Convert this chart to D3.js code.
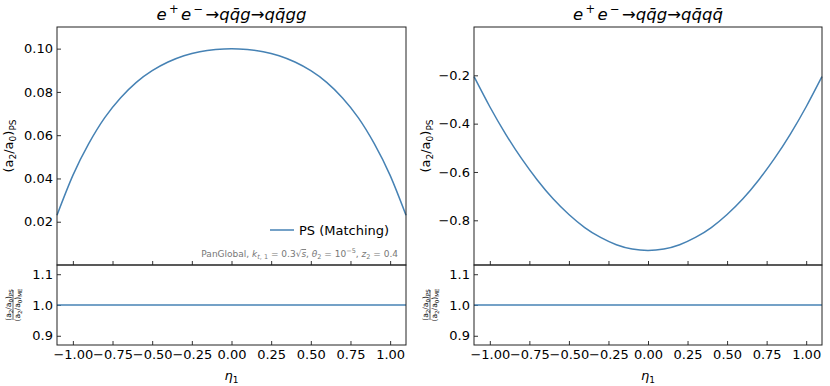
<!DOCTYPE html>
<html>
<head>
<meta charset="utf-8">
<script src="https://cdn.jsdelivr.net/npm/d3@7"></script>
<style>
  body { margin: 0; background: #fff; }
  text { font-family: "DejaVu Sans", sans-serif; }
</style>
</head>
<body>
<div id="chart"></div>
<script>
// data
let eta = [-1.1, -1.0, -0.9, -0.8, -0.7, -0.6, -0.5, -0.4, -0.3, -0.2, -0.1, 0.0,
  0.1, 0.2, 0.3, 0.4, 0.5, 0.6, 0.7, 0.8, 0.9, 1.0, 1.1]
let ggValues = [0.0230, 0.0414, 0.0561, 0.0680, 0.0772, 0.0844, 0.0898, 0.0938, 0.0967, 0.0986, 0.0996, 0.1000,
  0.0996, 0.0986, 0.0967, 0.0938, 0.0898, 0.0844, 0.0772, 0.0680, 0.0561, 0.0414, 0.0230]
let qqValues = [-0.205, -0.330, -0.443, -0.544, -0.633, -0.711, -0.776, -0.830, -0.871, -0.901, -0.919, -0.925,
  -0.919, -0.901, -0.871, -0.830, -0.776, -0.711, -0.633, -0.544, -0.443, -0.330, -0.205]
let ratioValues = [1.0, 1.0, 1.0, 1.0, 1.0, 1.0, 1.0, 1.0, 1.0, 1.0, 1.0, 1.0,
  1.0, 1.0, 1.0, 1.0, 1.0, 1.0, 1.0, 1.0, 1.0, 1.0, 1.0]

let xTicks = [-1.0, -0.75, -0.5, -0.25, 0.0, 0.25, 0.5, 0.75, 1.0]
let ggYTicks = [0.02, 0.04, 0.06, 0.08, 0.10]
let qqYTicks = [-0.8, -0.6, -0.4, -0.2]
let ratioTicks = [0.9, 1.0, 1.1]

//图表样式
let style = {
  w: 830,
  h: 386,
  top: 27,
  split: 265,
  bottom: 345,
  lineColor: '#4682b4',
  frame: '#222'
}

let panels = [
  { left: 57, right: 406, values: ggValues, yDomain: [0, 0.11], yTicks: ggYTicks, fmt: '.2f',
    proc: ['q', 'q̄', 'g', 'g'], legend: true, ylabX: 13 },
  { left: 474, right: 822, values: qqValues, yDomain: [-0.985, 0], yTicks: qqYTicks, fmt: '.1f',
    proc: ['q', 'q̄', 'q', 'q̄'], legend: false, ylabX: 430 }
]

let svg = d3.select('#chart').append('svg')
  .attr('width', style.w)
  .attr('height', style.h)

panels.forEach(p => {
  let x = d3.scaleLinear().domain([-1.1, 1.1]).range([p.left, p.right])
  let y = d3.scaleLinear().domain(p.yDomain).range([style.split, style.top])
  let yr = d3.scaleLinear().domain([0.87, 1.13]).range([style.bottom, style.split])
  let cx = (p.left + p.right) / 2

  // main panel axes, ticks inward
  svg.append('g')
    .attr('transform', `translate(0,${style.split})`)
    .call(d3.axisBottom(x).tickValues(xTicks).tickSizeInner(-4).tickSizeOuter(0).tickFormat(''))
  svg.append('g')
    .attr('transform', `translate(${p.left},0)`)
    .call(d3.axisLeft(y).tickValues(p.yTicks).tickSizeInner(-4).tickSizeOuter(0)
      .tickPadding(4).tickFormat(d3.format(p.fmt)))
  // ratio panel axes
  svg.append('g')
    .attr('transform', `translate(0,${style.bottom})`)
    .call(d3.axisBottom(x).tickValues(xTicks).tickSizeInner(-4).tickSizeOuter(0)
      .tickPadding(5).tickFormat(d3.format('.2f')))
  svg.append('g')
    .attr('transform', `translate(${p.left},0)`)
    .call(d3.axisLeft(yr).tickValues(ratioTicks).tickSizeInner(-4).tickSizeOuter(0)
      .tickPadding(4).tickFormat(d3.format('.1f')))

  svg.selectAll('.domain').remove()
  svg.selectAll('.tick line').attr('stroke', '#333')
  svg.selectAll('.tick text').attr('font-size', 13).attr('fill', '#000')
    .attr('font-family', '"DejaVu Sans", sans-serif')

  //曲线
  let line = d3.line().x((d, i) => x(eta[i])).y(d => y(d)).curve(d3.curveNatural)
  svg.append('path').datum(p.values)
    .attr('d', line).attr('fill', 'none')
    .attr('stroke', style.lineColor).attr('stroke-width', 1.5)
  let rline = d3.line().x((d, i) => x(eta[i])).y(d => yr(d))
  svg.append('path').datum(ratioValues)
    .attr('d', rline).attr('fill', 'none')
    .attr('stroke', style.lineColor).attr('stroke-width', 1.5)

  // frames
  svg.append('rect').attr('x', p.left).attr('y', style.top)
    .attr('width', p.right - p.left).attr('height', style.split - style.top)
    .attr('fill', 'none').attr('stroke', style.frame).attr('stroke-width', 1)
  svg.append('rect').attr('x', p.left).attr('y', style.split)
    .attr('width', p.right - p.left).attr('height', style.bottom - style.split)
    .attr('fill', 'none').attr('stroke', style.frame).attr('stroke-width', 1)

  // title
  let title = svg.append('text').attr('x', cx).attr('y', 20)
    .attr('text-anchor', 'middle').attr('font-size', 16.5).attr('font-style', 'italic')
  title.append('tspan').text('e')
  title.append('tspan').attr('dy', -7).attr('font-size', 11.5).attr('font-style', 'normal').text('\u2009+\u2009')
  title.append('tspan').attr('dy', 7).text('e')
  title.append('tspan').attr('dy', -7).attr('font-size', 11.5).attr('font-style', 'normal').text('\u2009−\u2009')
  title.append('tspan').attr('dy', 7).attr('font-style', 'normal').text('→')
  title.append('tspan').text('qq̄g')
  title.append('tspan').attr('font-style', 'normal').text('→')
  title.append('tspan').text(p.proc.join(''))

  // y label
  let yl = svg.append('text')
    .attr('transform', `translate(${p.ylabX},${(style.top + style.split) / 2}) rotate(-90)`)
    .attr('text-anchor', 'middle').attr('font-size', 13)
  yl.append('tspan').text('(a')
  yl.append('tspan').attr('dy', 3).attr('font-size', 9).text('2')
  yl.append('tspan').attr('dy', -3).text('/a')
  yl.append('tspan').attr('dy', 3).attr('font-size', 9).text('0')
  yl.append('tspan').attr('dy', -3).text(')')
  yl.append('tspan').attr('dy', 3).attr('font-size', 9).text('PS')

  // ratio y label: fraction
  let fc = (style.split + style.bottom) / 2
  let frac = svg.append('g').attr('transform', `translate(${p.ylabX},${fc}) rotate(-90)`)
  ;[['PS', -2.5], ['ME', 6.5]].forEach(([sub, dy]) => {
    let t = frac.append('text').attr('y', dy).attr('text-anchor', 'middle').attr('font-size', 7.5)
    t.append('tspan').text('(a')
    t.append('tspan').attr('dy', 2).attr('font-size', 5.5).text('2')
    t.append('tspan').attr('dy', -2).text('/a')
    t.append('tspan').attr('dy', 2).attr('font-size', 5.5).text('0')
    t.append('tspan').attr('dy', -2).text(')')
    t.append('tspan').attr('dy', 2).attr('font-size', 5.5).text(sub)
  })
  frac.append('line').attr('x1', -15).attr('x2', 15).attr('y1', 0).attr('y2', 0)
    .attr('stroke', '#000').attr('stroke-width', 0.6)

  // x label
  let xl = svg.append('text').attr('x', cx).attr('y', 380)
    .attr('text-anchor', 'middle').attr('font-size', 13)
  xl.append('tspan').attr('font-style', 'italic').text('η')
  xl.append('tspan').attr('dy', 3).attr('font-size', 9).text('1')

  if (p.legend) {
    svg.append('line').attr('x1', 270).attr('x2', 294).attr('y1', 230).attr('y2', 230)
      .attr('stroke', style.lineColor).attr('stroke-width', 1.5)
    svg.append('text').attr('x', 299).attr('y', 235).attr('font-size', 13).text('PS (Matching)')
    let note = svg.append('text').attr('x', p.right - 8).attr('y', 257)
      .attr('text-anchor', 'end').attr('font-size', 9).attr('fill', '#777')
    note.append('tspan').text('PanGlobal, ')
    note.append('tspan').attr('font-style', 'italic').text('k')
    note.append('tspan').attr('dy', 2).attr('font-size', 6.5).attr('font-style', 'italic').text('t')
    note.append('tspan').attr('font-size', 6.5).text(', 1')
    note.append('tspan').attr('dy', -2).text(' = 0.3√')
    note.append('tspan').attr('font-style', 'italic').attr('text-decoration', 'overline').text('s')
    note.append('tspan').text(', ')
    note.append('tspan').attr('font-style', 'italic').text('θ')
    note.append('tspan').attr('dy', 2).attr('font-size', 6.5).text('2')
    note.append('tspan').attr('dy', -2).text(' = 10')
    note.append('tspan').attr('dy', -4).attr('font-size', 6.5).text('−5')
    note.append('tspan').attr('dy', 4).text(', ')
    note.append('tspan').attr('font-style', 'italic').text('z')
    note.append('tspan').attr('dy', 2).attr('font-size', 6.5).text('2')
    note.append('tspan').attr('dy', -2).text(' = 0.4')
  }
})
</script>
</body>
</html>
